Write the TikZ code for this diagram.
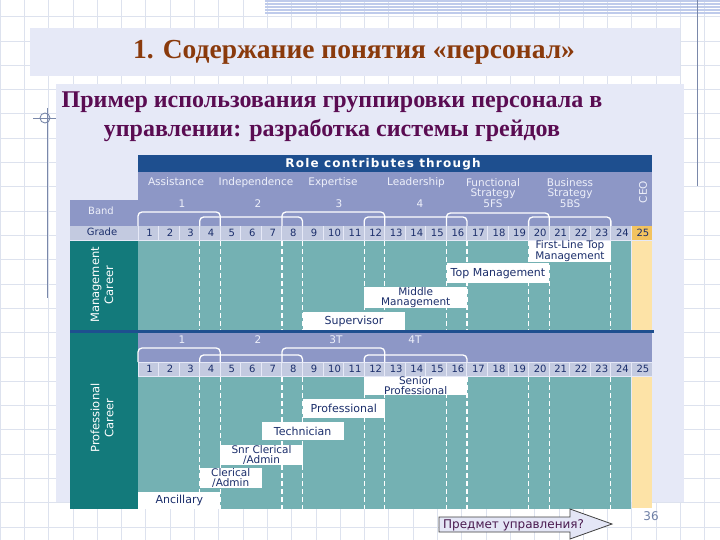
\documentclass[tikz,border=0pt]{standalone}
\usepackage{fontspec}
\setmainfont{Liberation Serif}
\newfontfamily\cf{DejaVu Sans}
\newfontfamily\cfsp[LetterSpace=10]{DejaVu Sans}
\usetikzlibrary{calc}
\definecolor{navy}{HTML}{1E4F8F}
\definecolor{bandbg}{HTML}{8D97C6}
\definecolor{gradebg}{HTML}{C3CAE0}
\definecolor{tealdk}{HTML}{137A7B}
\definecolor{tealc}{HTML}{74B1B3}
\definecolor{orangecol}{HTML}{FDE3A7}
\definecolor{orangecell}{HTML}{F3C35F}
\definecolor{txtnavy}{HTML}{1B2E6B}
\definecolor{lavender}{HTML}{E6E9F7}
\definecolor{gridc}{HTML}{DDE2EE}
\definecolor{titlec}{HTML}{8A3A0C}
\definecolor{subc}{HTML}{5A0C52}
\definecolor{lighttxt}{HTML}{EEF0FA}
\definecolor{stripec}{HTML}{BFCBEB}
\definecolor{decoc}{HTML}{7A88AA}
\definecolor{arrowfill}{HTML}{E4E6F6}
\definecolor{arrowtxt}{HTML}{4A1A4F}
\definecolor{pagec}{HTML}{6E7FA5}
\begin{document}
\begin{tikzpicture}[x=1pt,y=-1pt,
  gnum/.style={font=\cf\fontsize{10}{10}\selectfont, text=txtnavy, inner sep=0, text height=7.3, text depth=0},
  role/.style={font=\cf\fontsize{10.5}{10.5}\selectfont, text=lighttxt, inner sep=0, align=center, text height=7.8, text depth=2.2},
  wbox/.style={fill=white, draw=none, inner sep=0, font=\cf\fontsize{10.5}{9.6}\selectfont, text=txtnavy, align=center, anchor=north west},
  wbox1/.style={wbox, font=\cf\fontsize{11}{11}\selectfont},
  dline/.style={white, line width=1.2, dash pattern=on 5pt off 3pt},
  brk/.style={white, line width=1.3, rounded corners=4},
  sidelbl/.style={font=\cf\fontsize{11.5}{14}\selectfont, text=white, rotate=90, align=center, inner sep=0},
  lbl/.style={font=\cf\fontsize{10}{10}\selectfont, text=#1, inner sep=0, text height=7.3, text depth=2},
]
\useasboundingbox (0,0) rectangle (720,540);
\fill[white] (0,0) rectangle (720,540);
% background grid
\foreach \k in {0,...,29} \draw[gridc, line width=0.8] ({24.3*\k},0) -- ({24.3*\k},540);
\foreach \k in {0,...,21} \draw[gridc, line width=0.8] (0,{16.7+24.3*\k}) -- (720,{16.7+24.3*\k});
% top-right decoration
\foreach \yy in {1,4,7,10,13} \draw[stripec, line width=1.2] (265,\yy) -- (720,\yy);
\draw[decoc, line width=1] (697,0) -- (697,186);
% left decoration
\draw[decoc, line width=0.9] (47,108) -- (47,298);
\draw[decoc, line width=0.9] (45,118) circle (5);
\draw[decoc, line width=0.9] (33,118) -- (58,118);
% title
\fill[lavender] (30,28) rectangle (680,76);
\node[font=\bfseries\fontsize{27.5}{29}\selectfont, text=titlec, inner sep=0] (title) at (354,52) {1. Содержание понятия «персонал»};
% content panel
\fill[lavender] (56,84) rectangle (684,502);
\node[font=\bfseries\fontsize{24}{29}\selectfont, text=subc, inner sep=0, align=center] (subtitle) at (332,117) {Пример использования группировки персонала в\\управлении: разработка системы грейдов};
% ---------- chart header ----------
\fill[navy] (138,155) rectangle (652,172);
\node[font=\cfsp\bfseries\fontsize{12}{12}\selectfont, text=white, inner sep=0] (rct) at (383,164) {Role contributes through};
\fill[bandbg] (138,172) rectangle (652,226);
\fill[bandbg] (70,200) rectangle (138,226);
\node[lbl=lighttxt] (bandlbl) at (101,212) {Band};
\node[role] (r1) at (176,183) {Assistance};
\node[role] (r2) at (256,183) {Independence};
\node[role] (r3) at (333,183) {Expertise};
\node[role] (r4) at (416,183) {Leadership};
\node[role, anchor=north, text height=, text depth=, font=\cf\fontsize{10.5}{10.8}\selectfont] (r5) at (493,178) {Functional\\Strategy\\5FS};
\node[role, anchor=north, text height=, text depth=, font=\cf\fontsize{10.5}{10.8}\selectfont] (r6) at (570,178) {Business\\Strategy\\5BS};
\node[role, rotate=90, text height=, text depth=] (ceo) at (643,192) {CEO};
\node[role] (b1) at (182,205) {1};
\node[role] (b2) at (258,205) {2};
\node[role] (b3) at (339,205) {3};
\node[role] (b4) at (420,205) {4};
% brackets (management)
\foreach \ka/\kb/\yb in {0/4/212, 3/8/217, 7/12/212, 11/16/217, 15/20/213, 19/23/217}
  \draw[brk] ({138+20.56*\ka},226) -- ({138+20.56*\ka},\yb) -- ({138+20.56*\kb},\yb) -- ({138+20.56*\kb},226);
% grade row (management)
\fill[gradebg] (70,226.5) rectangle (137.5,240);
\node[lbl=txtnavy] (gradelbl) at (102,233.3) {Grade};
\foreach \i in {1,...,25}{
  \pgfmathsetmacro\xa{138+20.56*(\i-1)+0.5}
  \pgfmathsetmacro\xb{138+20.56*\i-0.5}
  \pgfmathsetmacro\xc{138+20.56*(\i-0.5)+1.2}
  \ifnum\i=25 \def\cc{orangecell}\else\def\cc{gradebg}\fi
  \fill[\cc] (\xa,226.5) rectangle (\xb,240);
  \node[gnum] (mg\i) at (\xc,233.3) {\i};
}
% management area
\fill[tealdk] (70,241) rectangle (138,330);
\fill[tealc] (138,241) rectangle (631.4,330);
\fill[orangecol] (632.4,241) rectangle (652,330);
\foreach \k in {3,4,7,8,11,12,15,16,19,20,23}
  \draw[dline] ({138+20.56*\k},241) -- ({138+20.56*\k},330);
\node[sidelbl] (mcar) at (102,285) {Management\\Career};
\node[wbox, minimum width={20.56*4}, minimum height=19.5] (flt) at ({138+20.56*19},240.5) {First-Line Top\\Management};
\node[wbox1, minimum width={20.56*5}, minimum height=20] (tm) at ({138+20.56*15},263) {Top Management};
\node[wbox, minimum width={20.56*5}, minimum height=21] (mm) at ({138+20.56*11},287) {Middle\\Management};
\node[wbox1, minimum width={20.56*5}, minimum height=18] (sup) at ({138+20.56*8},312) {Supervisor};
% separator
\draw[navy, line width=3] (70,331.5) -- (654,331.5);
% ---------- professional ----------
\fill[tealdk] (70,333) rectangle (138,509);
\fill[bandbg] (138,333) rectangle (652,361.5);
\node[role] (pb1) at (182,341) {1};
\node[role] (pb2) at (258,341) {2};
\node[role] (pb3) at (336,341) {3T};
\node[role] (pb4) at (415,341) {4T};
\foreach \ka/\kb/\yb in {0/4/348, 3/8/355, 7/12/348, 11/16/355}
  \draw[brk] ({138+20.56*\ka},362) -- ({138+20.56*\ka},\yb) -- ({138+20.56*\kb},\yb) -- ({138+20.56*\kb},362);
\foreach \i in {1,...,25}{
  \pgfmathsetmacro\xa{138+20.56*(\i-1)+0.5}
  \pgfmathsetmacro\xb{138+20.56*\i-0.5}
  \pgfmathsetmacro\xc{138+20.56*(\i-0.5)+1.2}
  \fill[gradebg] (\xa,362.5) rectangle (\xb,376);
  \node[gnum] (pg\i) at (\xc,369.3) {\i};
}
\fill[tealc] (138,377) rectangle (631.4,509);
\fill[orangecol] (632.4,377) rectangle (652,508);
\foreach \k in {3,4,7,8,11,12,15,16,19,20,23}
  \draw[dline] ({138+20.56*\k},377) -- ({138+20.56*\k},509);
\node[sidelbl] (pcar) at (102,418) {Professional\\Career};
\node[wbox, minimum width={20.56*5}, minimum height=18] (sp) at ({138+20.56*11},376.5) {Senior\\Professional};
\node[wbox1, minimum width={20.56*4}, minimum height=19] (prof) at ({138+20.56*8},399) {Professional};
\node[wbox1, minimum width={20.56*4}, minimum height=18] (tech) at ({138+20.56*6},422) {Technician};
\node[wbox, minimum width={20.56*4}, minimum height=20] (snr) at ({138+20.56*4},445) {Snr Clerical\\/Admin};
\node[wbox, minimum width={20.56*3}, minimum height=20] (cler) at ({138+20.56*3},468) {Clerical\\/Admin};
\node[wbox1, minimum width={20.56*4}, minimum height=17] (anc) at (138,492) {Ancillary};
% ---------- bottom ----------
\draw[fill=arrowfill, draw=black!75, line width=0.8] (439,517) -- (570,517) -- (570,509) -- (612,524) -- (570,539) -- (570,532) -- (439,532) -- cycle;
\node[font=\cf\fontsize{12}{12}\selectfont, text=arrowtxt, inner sep=0, anchor=west] (pred) at (443,525) {Предмет управления?};
\node[font=\cf\fontsize{12}{12}\selectfont, text=pagec, inner sep=0] (page) at (651,516) {36};
\end{tikzpicture}
\end{document}
